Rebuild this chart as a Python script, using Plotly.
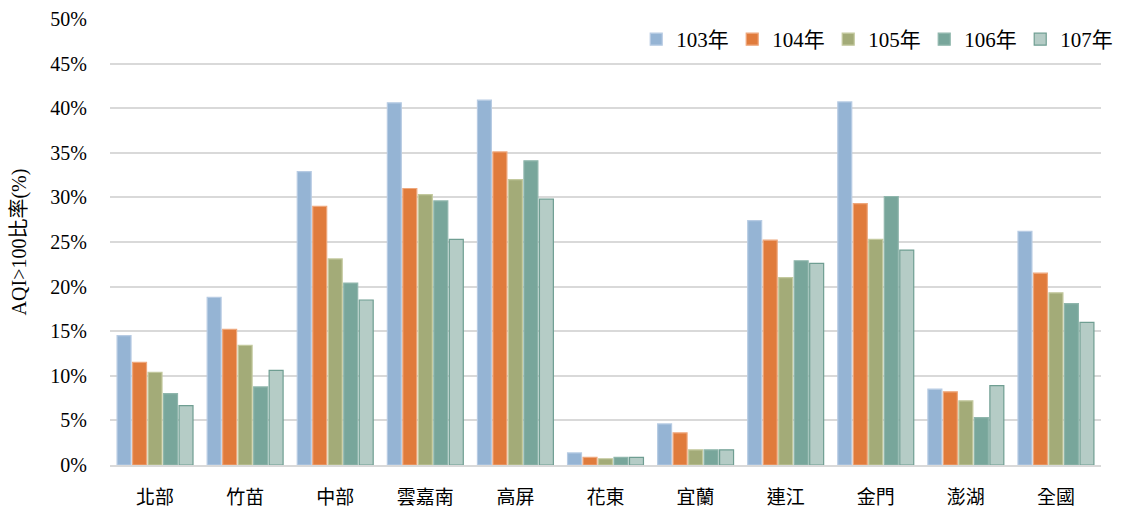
import plotly.graph_objects as go

categories = ["北部", "竹苗", "中部", "雲嘉南", "高屏", "花東", "宜蘭", "連江", "金門", "澎湖", "全國"]
years = ["103年", "104年", "105年", "106年", "107年"]
v103 = [14.5, 18.8, 32.9, 40.6, 40.9, 1.35, 4.6, 27.4, 40.7, 8.5, 26.2]
v104 = [11.5, 15.2, 29.0, 31.0, 35.1, 0.85, 3.6, 25.2, 29.3, 8.2, 21.5]
v105 = [10.4, 13.4, 23.1, 30.3, 32.0, 0.7, 1.7, 21.0, 25.3, 7.2, 19.3]
v106 = [8.0, 8.75, 20.4, 29.6, 34.1, 0.85, 1.7, 22.9, 30.1, 5.3, 18.1]
v107 = [6.65, 10.6, 18.5, 25.3, 29.8, 0.85, 1.7, 22.6, 24.1, 8.9, 16.0]
series = [v103, v104, v105, v106, v107]

fills = ["#95b4d4", "#e07b3c", "#a3ab78", "#78a69b", "#b5ccc6"]
borders = ["#b7cbe3", "#eea77c", "#c3c99e", "#8fb6ac", "#6f9e92"]

SERIF = "Liberation Serif, Noto Sans CJK TC"

fig = go.Figure()
for name, vals, fc, bc in zip(years, series, fills, borders):
    fig.add_trace(go.Bar(
        x=categories, y=vals, name=name,
        marker=dict(color=fc, line=dict(color=bc, width=1.2)),
    ))

fig.update_layout(
    width=1121, height=510,
    barmode="group", bargap=0.14, bargroupgap=0.1,
    margin=dict(l=110, r=20, t=19, b=45, autoexpand=False),
    plot_bgcolor="white", paper_bgcolor="white",
    font=dict(family=SERIF, size=20, color="#000000"),
    legend=dict(
        orientation="h", x=0.531, xanchor="left", y=1.0, yanchor="top",
        font=dict(family=SERIF, size=21), bgcolor="rgba(255,255,255,0)",
        entrywidth=51, entrywidthmode="pixels", tracegroupgap=0,
    ),
    xaxis=dict(
        automargin=False,
        showline=True, linecolor="#d9d9d9", linewidth=2,
        tickfont=dict(family="Noto Sans CJK TC", size=19, color="#000000"),
        ticks="", ticklabelstandoff=14,
    ),
    yaxis=dict(
        automargin=False,
        range=[0, 50], dtick=5, ticksuffix="%",
        showgrid=True, gridcolor="#d9d9d9", gridwidth=1.5,
        zeroline=False, ticks="", ticklabelstandoff=22,
        title=dict(text="AQI>100比率(%)", font=dict(family=SERIF, size=20, color="#000000"), standoff=18),
        tickfont=dict(family=SERIF, size=20, color="#000000"),
    ),
)

fig.write_html("out.html", config={"displayModeBar": False},
               post_script="document.body.style.margin='0';")
